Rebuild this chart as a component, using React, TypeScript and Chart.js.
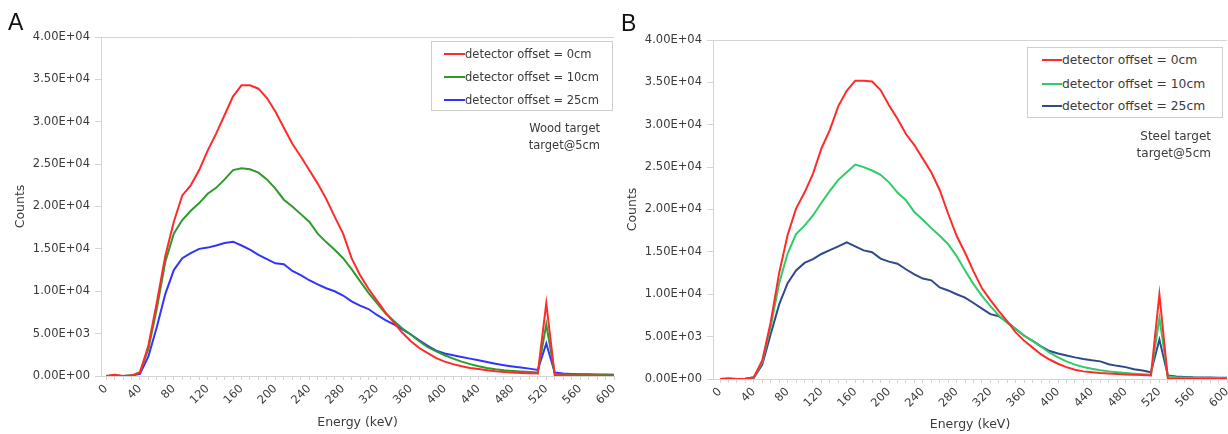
import React, { useEffect, useRef } from 'react';
import { Chart, registerables } from 'chart.js';

Chart.register(...registerables);

// ---------- data ----------
const ENERGY_KEV = [
  0, 10, 20, 30, 40, 50, 60, 70, 80, 90,
  100, 110, 120, 130, 140, 150, 160, 170, 180, 190,
  200, 210, 220, 230, 240, 250, 260, 270, 280, 290,
  300, 310, 320, 330, 340, 350, 360, 370, 380, 390,
  400, 410, 420, 430, 440, 450, 460, 470, 480, 490,
  500, 510, 520, 530, 540, 550, 560, 570, 580, 590,
  600,
];

const X_TICK_LABELS = [0, 40, 80, 120, 160, 200, 240, 280, 320, 360, 400, 440, 480, 520, 560, 600];
const Y_TICK_VALUES = [0, 5000, 10000, 15000, 20000, 25000, 30000, 35000, 40000];

const SERIES_LABELS = ['detector offset = 0cm', 'detector offset = 10cm', 'detector offset = 25cm'];

// Panel A — wood target
const WOOD_0CM = [
  0, 150, 0, 50, 400, 3600, 8700, 14200, 18200, 21300,
  22500, 24300, 26600, 28600, 30800, 33000, 34300, 34300, 33900, 32800,
  31200, 29300, 27400, 25900, 24300, 22700, 20900, 18800, 16800, 13900,
  11900, 10300, 8900, 7500, 6300, 5100, 4100, 3300, 2700, 2100,
  1700, 1400, 1150, 950, 820, 680, 560, 470, 400, 360,
  330, 300, 8600, 100, 80, 70, 60, 50, 50, 40,
  40,
];
const WOOD_10CM = [
  0, 50, 0, 50, 450, 3200, 8000, 13500, 16800, 18400,
  19500, 20400, 21500, 22200, 23200, 24300, 24500, 24400, 24000, 23200,
  22100, 20800, 20000, 19100, 18200, 16800, 15800, 14900, 13900, 12600,
  11200, 9800, 8600, 7400, 6500, 5600, 4900, 4100, 3400, 2900,
  2450, 2050, 1700, 1400, 1150, 950, 800, 680, 600, 520,
  460, 400, 6100, 250, 200, 170, 150, 130, 120, 110,
  100,
];
const WOOD_25CM = [
  0, 0, 0, 50, 250, 2300, 5800, 9700, 12500, 13900,
  14500, 15000, 15150, 15400, 15700, 15850, 15400, 14900, 14300, 13800,
  13300, 13200, 12400, 11900, 11300, 10800, 10350, 10000, 9500, 8800,
  8300, 7900, 7200, 6600, 6100, 5500, 4900, 4200, 3550, 3000,
  2650, 2450, 2250, 2050, 1850, 1650, 1450, 1280, 1130, 1000,
  870, 720, 3850, 400, 300, 250, 220, 200, 180, 170,
  160,
];

// Panel B — steel target
const STEEL_0CM = [
  0, 100, 0, 30, 200, 2200, 6700, 12500, 17000, 20100,
  22000, 24200, 27200, 29400, 32200, 34000, 35200, 35200, 35100, 34100,
  32300, 30700, 28900, 27600, 26000, 24400, 22300, 19500, 16900, 14900,
  12700, 10700, 9300, 8000, 6800, 5500, 4500, 3700, 2900, 2300,
  1800, 1400, 1100, 900, 800, 700, 640, 590, 540, 500,
  460, 420, 10000, 50, 40, 30, 30, 20, 20, 20,
  20,
];
const STEEL_10CM = [
  0, 30, 0, 30, 200, 2000, 6200, 11300, 14800, 17100,
  18100, 19300, 20800, 22200, 23500, 24400, 25300, 25000, 24600, 24100,
  23200, 22000, 21100, 19700, 18800, 17800, 16900, 15900, 14500, 12800,
  11200, 9800, 8600, 7500, 6600, 5900, 5100, 4500, 3800, 3100,
  2550, 2080, 1700, 1420, 1200, 1020, 900, 790, 700, 620,
  560, 510, 7200, 300, 220, 180, 150, 130, 120, 110,
  100,
];
const STEEL_25CM = [
  0, 0, 0, 30, 150, 1700, 5300, 8800, 11300, 12800,
  13700, 14150, 14750, 15200, 15650, 16130, 15650, 15180, 14950, 14200,
  13850, 13600, 12950, 12350, 11850, 11640, 10800, 10450, 10000, 9600,
  8970, 8300, 7650, 7400, 6700, 5900, 5100, 4500, 3850, 3300,
  3000, 2780, 2550, 2350, 2200, 2080, 1750, 1550, 1400, 1150,
  1000, 800, 4650, 400, 300, 250, 200, 180, 170, 160,
  150,
];

const COLORS_A = ['#ff2b2b', '#2e9a2e', '#3333ff'];
const COLORS_B = ['#ff2b2b', '#2ecc6a', '#2e4a8a'];

// ---------- helpers ----------
const FONT = "'DejaVu Sans', sans-serif";
const TEXT = '#3a3a3a';
const AXIS = '#d4d4d4';
const H = 434;

function fmtSci(v: number): string {
  if (v === 0) return '0.00E+00';
  const e = Math.floor(Math.log10(v) + 1e-9);
  const m = v / Math.pow(10, e);
  return m.toFixed(2) + 'E+' + String(e).padStart(2, '0');
}

const topBorder = {
  id: 'topBorder',
  beforeDatasetsDraw(chart: any) {
    const { ctx, chartArea } = chart;
    ctx.save();
    ctx.strokeStyle = AXIS;
    ctx.lineWidth = 1;
    ctx.beginPath();
    ctx.moveTo(chartArea.left, Math.round(chartArea.top) + 0.5);
    ctx.lineTo(chartArea.right, Math.round(chartArea.top) + 0.5);
    ctx.stroke();
    ctx.restore();
  },
};

type PanelProps = {
  left: number;
  width: number;
  plotTop: number;
  plotBottom: number;
  padRight: number;
  xMin: number;
  xTitlePad: number;
  values: number[][];
  colors: string[];
};

function Panel(p: PanelProps) {
  const ref = useRef<HTMLCanvasElement>(null);
  useEffect(() => {
    const chart = new Chart(ref.current as HTMLCanvasElement, {
      type: 'line',
      data: {
        datasets: p.values.map((vals, i) => ({
          label: SERIES_LABELS[i],
          data: ENERGY_KEV.map((e, k) => ({ x: e, y: vals[k] })),
          borderColor: p.colors[i],
          backgroundColor: p.colors[i],
          borderWidth: 2,
          pointRadius: 0,
          tension: 0,
          fill: false,
        })),
      },
      options: {
        animation: false,
        responsive: false,
        devicePixelRatio: 1,
        layout: { padding: { left: 10, right: p.padRight, top: p.plotTop, bottom: 0 } },
        plugins: { legend: { display: false }, tooltip: { enabled: false } },
        scales: {
          x: {
            type: 'linear',
            min: p.xMin,
            max: 600,
            afterBuildTicks: (s: any) => {
              s.ticks = ENERGY_KEV.map((v) => ({ value: v }));
            },
            afterFit: (s: any) => {
              s.height = H - p.plotBottom;
              s.paddingLeft = 0;
              s.paddingRight = 0;
            },
            ticks: {
              autoSkip: false,
              minRotation: 45,
              maxRotation: 45,
              padding: 2,
              color: TEXT,
              font: { family: FONT, size: 11.5 },
              callback: (v: any) => (X_TICK_LABELS.includes(Number(v)) ? String(v) : ''),
            },
            grid: { drawOnChartArea: false, drawTicks: true, tickLength: 4, color: AXIS },
            border: { color: AXIS },
            title: {
              display: true,
              text: 'Energy (keV)',
              color: TEXT,
              font: { family: FONT, size: 12.5 },
              padding: { top: 0, bottom: p.xTitlePad },
            },
          },
          y: {
            min: 0,
            max: 40000,
            afterBuildTicks: (s: any) => {
              s.ticks = Y_TICK_VALUES.map((v) => ({ value: v }));
            },
            afterFit: (s: any) => {
              s.width = 91;
              s.paddingTop = 0;
              s.paddingBottom = 0;
            },
            ticks: {
              padding: 5,
              color: TEXT,
              font: { family: FONT, size: 11.5 },
              callback: (v: any) => fmtSci(Number(v)),
            },
            grid: { drawOnChartArea: false, drawTicks: true, tickLength: 6, color: AXIS },
            border: { color: AXIS },
            title: {
              display: true,
              text: 'Counts',
              color: TEXT,
              font: { family: FONT, size: 12.5 },
              padding: { top: 3.5, bottom: 0 },
            },
          },
        },
      } as any,
      plugins: [topBorder],
    });
    return () => chart.destroy();
  }, []);
  return (
    <canvas
      ref={ref}
      width={p.width}
      height={H}
      style={{ position: 'absolute', left: p.left, top: 0, width: p.width, height: H }}
    />
  );
}

type LegendProps = {
  left: number;
  top: number;
  width: number;
  height: number;
  rows: number[];
  swatchLeft: number;
  textLeft: number;
  fontSize: number;
  colors: string[];
};

function Legend(l: LegendProps) {
  return (
    <div
      style={{
        position: 'absolute',
        left: l.left,
        top: l.top,
        width: l.width,
        height: l.height,
        border: '1px solid #cfcfcf',
        boxSizing: 'border-box',
        background: '#fff',
      }}
    >
      {SERIES_LABELS.map((lab, i) => (
        <div key={lab}>
          <div
            style={{
              position: 'absolute',
              left: l.swatchLeft,
              top: l.rows[i] - 1,
              width: l.textLeft - l.swatchLeft,
              height: 2,
              background: l.colors[i],
            }}
          />
          <div
            style={{
              position: 'absolute',
              left: l.textLeft,
              top: l.rows[i] - 8,
              height: 16,
              lineHeight: '16px',
              fontFamily: FONT,
              fontSize: l.fontSize,
              color: TEXT,
              whiteSpace: 'nowrap',
            }}
          >
            {lab}
          </div>
        </div>
      ))}
    </div>
  );
}

function Note(props: { right: number; top: number; lines: string[]; size: number }) {
  return (
    <div
      style={{
        position: 'absolute',
        left: props.right - 200,
        width: 200,
        top: props.top,
        textAlign: 'right',
        fontFamily: FONT,
        fontSize: props.size,
        lineHeight: '17px',
        color: TEXT,
      }}
    >
      {props.lines.map((t) => (
        <div key={t}>{t}</div>
      ))}
    </div>
  );
}

export default function App() {
  const letter: React.CSSProperties = {
    position: 'absolute',
    fontFamily: "'Liberation Sans', Arial, sans-serif",
    fontSize: 23,
    lineHeight: '23px',
    color: '#111',
  };
  return (
    <div
      style={{
        position: 'absolute',
        left: 0,
        top: 0,
        width: 1228,
        height: H,
        overflow: 'hidden',
        background: '#fff',
      }}
    >
      <Panel
        left={0}
        width={620}
        plotTop={37}
        plotBottom={376}
        padRight={6}
        xMin={-6}
        xTitlePad={4}
        values={[WOOD_0CM, WOOD_10CM, WOOD_25CM]}
        colors={COLORS_A}
      />
      <Panel
        left={612}
        width={616}
        plotTop={40}
        plotBottom={379}
        padRight={1}
        xMin={-8.3}
        xTitlePad={1.5}
        values={[STEEL_0CM, STEEL_10CM, STEEL_25CM]}
        colors={COLORS_B}
      />
      <div style={{ ...letter, left: 8, top: 11 }}>A</div>
      <div style={{ ...letter, left: 621, top: 12 }}>B</div>
      <Legend
        left={431}
        top={41}
        width={182}
        height={70}
        rows={[11.7, 35, 58]}
        swatchLeft={12}
        textLeft={33}
        fontSize={11.5}
        colors={COLORS_A}
      />
      <Legend
        left={1027}
        top={47}
        width={196}
        height={71}
        rows={[12.3, 35.6, 58.3]}
        swatchLeft={14}
        textLeft={34}
        fontSize={12.3}
        colors={COLORS_B}
      />
      <Note right={600} top={120} lines={['Wood target', 'target@5cm']} size={11.5} />
      <Note right={1211} top={128} lines={['Steel target', 'target@5cm']} size={12} />
    </div>
  );
}
